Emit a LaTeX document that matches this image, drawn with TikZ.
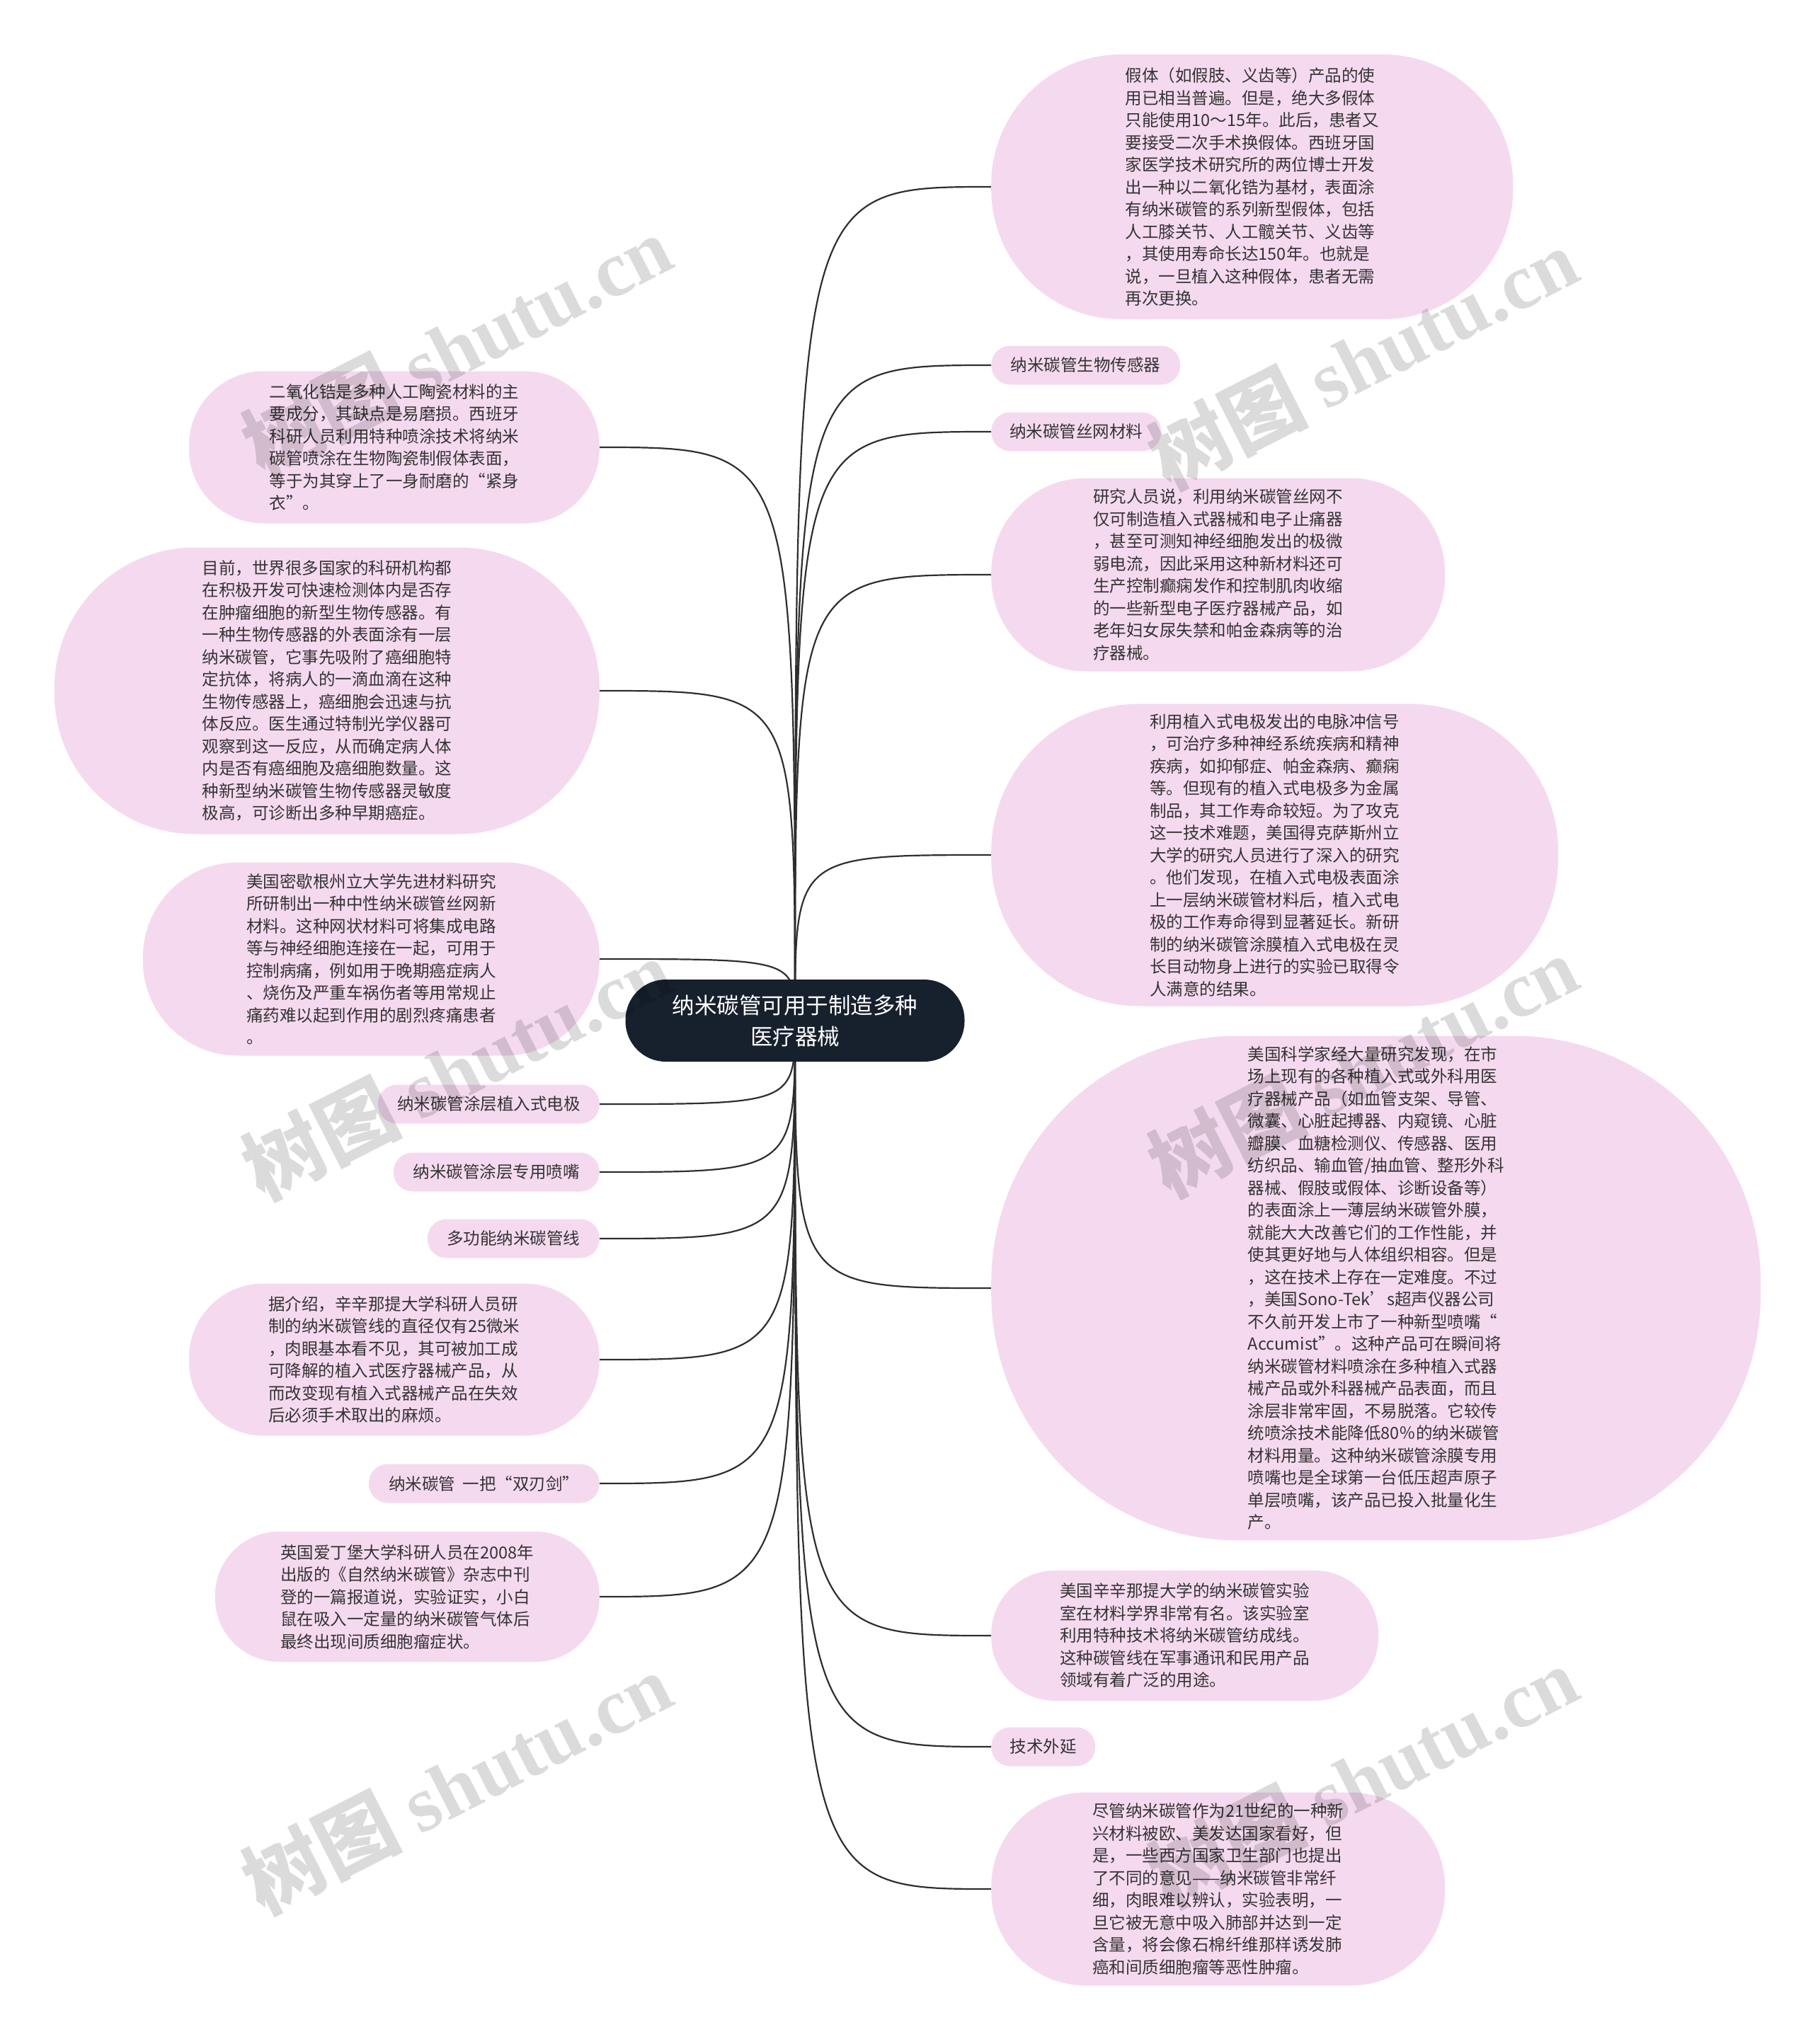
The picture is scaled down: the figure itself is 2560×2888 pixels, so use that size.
\documentclass[tikz,border=0pt]{standalone}
\usepackage{fontspec}
\setmainfont{Noto Sans CJK SC}
\newfontfamily\wmserif{Liberation Serif}
\usetikzlibrary{backgrounds}
\definecolor{bubfill}{HTML}{F5DAEF}
\definecolor{rootfill}{HTML}{17202D}
\definecolor{txtc}{HTML}{333333}
\definecolor{linec}{HTML}{2E2E2E}
\tikzset{
  bub/.style 2 args={fill=bubfill, text=txtc, inner sep=0pt, minimum width=#1, minimum height=#2,
    rounded corners=0.49*#2, align=left, font=\fontsize{23.5}{31.5}\selectfont},
  rbub/.style 2 args={bub={#1}{#2}, anchor=west},
  lbub/.style 2 args={bub={#1}{#2}, anchor=east},
  rootbox/.style={fill=rootfill, text=white, inner sep=0pt, minimum width=479, minimum height=116,
    rounded corners=57, align=center, font=\fontsize{31.5}{44}\selectfont},
  conn/.style={draw=linec, line width=2.2pt},
  wm/.style={text=black, opacity=0.14, rotate=27, inner sep=0pt, font=\fontsize{112}{112}\selectfont\bfseries}
}
\begin{document}
\begin{tikzpicture}[x=1pt,y=-1pt]
\useasboundingbox (0,0) rectangle (2560,2888);

\node[rootbox] (root) at (1123,1442) {纳米碳管可用于制造多种\\医疗器械};

% right side
\node[rbub={737}{374}] (r1) at (1400,264) {假体（如假肢、义齿等）产品的使\\用已相当普遍。但是，绝大多假体\\只能使用10～15年。此后，患者又\\要接受二次手术换假体。西班牙国\\家医学技术研究所的两位博士开发\\出一种以二氧化锆为基材，表面涂\\有纳米碳管的系列新型假体，包括\\人工膝关节、人工髋关节、义齿等\\，其使用寿命长达150年。也就是\\说，一旦植入这种假体，患者无需\\再次更换。};
\node[rbub={267}{55}] (r2) at (1400,516) {纳米碳管生物传感器};
\node[rbub={240}{55}] (r3) at (1400,610) {纳米碳管丝网材料};
\node[rbub={641}{273}] (r4) at (1400,812) {研究人员说，利用纳米碳管丝网不\\仅可制造植入式器械和电子止痛器\\，甚至可测知神经细胞发出的极微\\弱电流，因此采用这种新材料还可\\生产控制癫痫发作和控制肌肉收缩\\的一些新型电子医疗器械产品，如\\老年妇女尿失禁和帕金森病等的治\\疗器械。};
\node[rbub={801}{427}] (r5) at (1400,1208) {利用植入式电极发出的电脉冲信号\\，可治疗多种神经系统疾病和精神\\疾病，如抑郁症、帕金森病、癫痫\\等。但现有的植入式电极多为金属\\制品，其工作寿命较短。为了攻克\\这一技术难题，美国得克萨斯州立\\大学的研究人员进行了深入的研究\\。他们发现，在植入式电极表面涂\\上一层纳米碳管材料后，植入式电\\极的工作寿命得到显著延长。新研\\制的纳米碳管涂膜植入式电极在灵\\长目动物身上进行的实验已取得令\\人满意的结果。};
\node[rbub={1087}{713}] (r6) at (1400,1820) {美国科学家经大量研究发现，在市\\场上现有的各种植入式或外科用医\\疗器械产品（如血管支架、导管、\\微囊、心脏起搏器、内窥镜、心脏\\瓣膜、血糖检测仪、传感器、医用\\纺织品、输血管/抽血管、整形外科\\器械、假肢或假体、诊断设备等）\\的表面涂上一薄层纳米碳管外膜，\\就能大大改善它们的工作性能，并\\使其更好地与人体组织相容。但是\\，这在技术上存在一定难度。不过\\，美国Sono-Tek’s超声仪器公司\\不久前开发上市了一种新型喷嘴“\\Accumist”。这种产品可在瞬间将\\纳米碳管材料喷涂在多种植入式器\\械产品或外科器械产品表面，而且\\涂层非常牢固，不易脱落。它较传\\统喷涂技术能降低80％的纳米碳管\\材料用量。这种纳米碳管涂膜专用\\喷嘴也是全球第一台低压超声原子\\单层喷嘴，该产品已投入批量化生\\产。};
\node[rbub={547}{184}] (r7) at (1400,2311) {美国辛辛那提大学的纳米碳管实验\\室在材料学界非常有名。该实验室\\利用特种技术将纳米碳管纺成线。\\这种碳管线在军事通讯和民用产品\\领域有着广泛的用途。};
\node[rbub={147}{55}] (r8) at (1400,2468) {技术外延};
\node[rbub={641}{273}] (r9) at (1400,2669) {尽管纳米碳管作为21世纪的一种新\\兴材料被欧、美发达国家看好，但\\是，一些西方国家卫生部门也提出\\了不同的意见——纳米碳管非常纤\\细，肉眼难以辨认，实验表明，一\\旦它被无意中吸入肺部并达到一定\\含量，将会像石棉纤维那样诱发肺\\癌和间质细胞瘤等恶性肿瘤。};

% left side
\node[lbub={580}{215}] (l1) at (847,632) {二氧化锆是多种人工陶瓷材料的主\\要成分，其缺点是易磨损。西班牙\\科研人员利用特种喷涂技术将纳米\\碳管喷涂在生物陶瓷制假体表面，\\等于为其穿上了一身耐磨的“紧身\\衣”。};
\node[lbub={770}{405}] (l2) at (847,976) {目前，世界很多国家的科研机构都\\在积极开发可快速检测体内是否存\\在肿瘤细胞的新型生物传感器。有\\一种生物传感器的外表面涂有一层\\纳米碳管，它事先吸附了癌细胞特\\定抗体，将病人的一滴血滴在这种\\生物传感器上，癌细胞会迅速与抗\\体反应。医生通过特制光学仪器可\\观察到这一反应，从而确定病人体\\内是否有癌细胞及癌细胞数量。这\\种新型纳米碳管生物传感器灵敏度\\极高，可诊断出多种早期癌症。};
\node[lbub={645}{273}] (l3) at (847,1355) {美国密歇根州立大学先进材料研究\\所研制出一种中性纳米碳管丝网新\\材料。这种网状材料可将集成电路\\等与神经细胞连接在一起，可用于\\控制病痛，例如用于晚期癌症病人\\、烧伤及严重车祸伤者等用常规止\\痛药难以起到作用的剧烈疼痛患者\\。};
\node[lbub={313}{55}] (l4) at (847,1560) {纳米碳管涂层植入式电极};
\node[lbub={291}{55}] (l5) at (847,1656) {纳米碳管涂层专用喷嘴};
\node[lbub={243}{55}] (l6) at (847,1750) {多功能纳米碳管线};
\node[lbub={580}{215}] (l7) at (847,1921) {据介绍，辛辛那提大学科研人员研\\制的纳米碳管线的直径仅有25微米\\，肉眼基本看不见，其可被加工成\\可降解的植入式医疗器械产品，从\\而改变现有植入式器械产品在失效\\后必须手术取出的麻烦。};
\node[lbub={326}{55}] (l8) at (847,2096) {纳米碳管\ \ 一把“双刃剑”};
\node[lbub={543}{184}] (l9) at (847,2256) {英国爱丁堡大学科研人员在2008年\\出版的《自然纳米碳管》杂志中刊\\登的一篇报道说，实验证实，小白\\鼠在吸入一定量的纳米碳管气体后\\最终出现间质细胞瘤症状。};

\begin{scope}[on background layer]
\foreach \n in {r1,r2,r3,r4,r5,r6,r7,r8,r9}
  \draw[conn] (root.center) .. controls (root.center |- \n.west) .. (\n.west);
\foreach \n in {l1,l2,l3,l4,l5,l6,l7,l8,l9}
  \draw[conn] (root.center) .. controls (root.center |- \n.east) .. (\n.east);
\end{scope}

% watermarks
\node[wm] (wm1) at (645,488) {树图 {\wmserif shutu.cn}};
\node[wm] (wm2) at (1925,506) {树图 {\wmserif shutu.cn}};
\node[wm] (wm3) at (645,1510) {树图 {\wmserif shutu.cn}};
\node[wm] (wm4) at (1925,1506) {树图 {\wmserif shutu.cn}};
\node[wm] (wm5) at (645,2519) {树图 {\wmserif shutu.cn}};
\node[wm] (wm6) at (1925,2510) {树图 {\wmserif shutu.cn}};
\end{tikzpicture}
\end{document}
